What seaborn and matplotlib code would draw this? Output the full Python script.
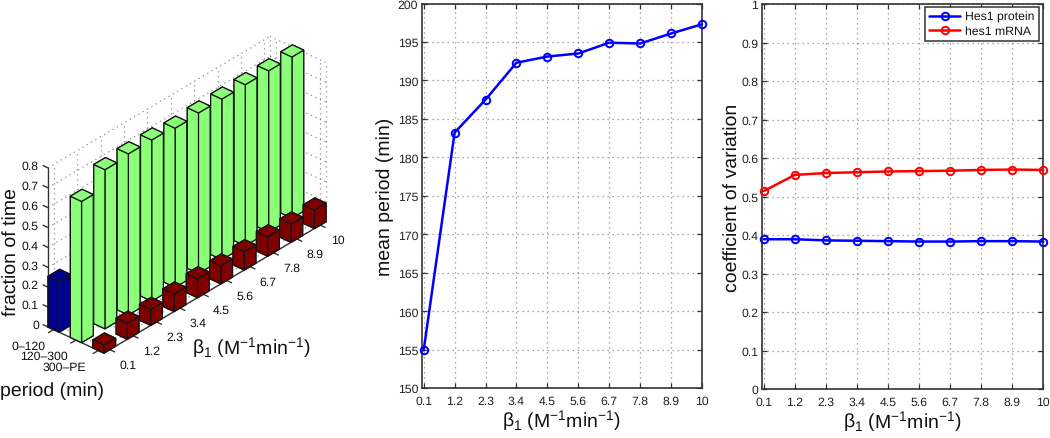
import numpy as np
import pandas as pd
import matplotlib
matplotlib.use("Agg")
import matplotlib.pyplot as plt
import seaborn as sns
from mpl_toolkits.mplot3d import proj3d

# ---- data ----
beta_labels = ["0.1", "1.2", "2.3", "3.4", "4.5", "5.6", "6.7", "7.8", "8.9", "10"]
beta_values = [0.1, 1.2, 2.3, 3.4, 4.5, 5.6, 6.7, 7.8, 8.9, 10.0]
period_labels = ["0–120", "120–300", "300–PE"]
frac_short = [0.255]
frac_mid = [0.71, 0.80, 0.81, 0.81, 0.80, 0.807, 0.807, 0.81, 0.81, 0.81]
frac_long = [0.04, 0.08, 0.08, 0.088, 0.095, 0.09, 0.092, 0.097, 0.092, 0.093]
frac_ticks = [0, 0.1, 0.2, 0.3, 0.4, 0.5, 0.6, 0.7, 0.8]
mean_period = [154.9, 183.2, 187.5, 192.3, 193.1, 193.5, 194.9, 194.8, 196.1, 197.3]
cv_protein = [0.389, 0.389, 0.386, 0.385, 0.384, 0.383, 0.383, 0.384, 0.384, 0.383]
cv_mrna = [0.514, 0.556, 0.561, 0.563, 0.565, 0.566, 0.567, 0.569, 0.570, 0.569]

# ---- style ----
W, H = 1050, 439
sns.set_theme(style="ticks")
FONT = "Liberation Sans"
plt.rcParams.update({
    "font.family": [FONT, "DejaVu Sans"],
    "mathtext.fontset": "custom", "mathtext.rm": FONT, "mathtext.it": FONT,
    "mathtext.bf": FONT, "mathtext.default": "regular",
    "text.color": "#111111", "axes.labelcolor": "#111111",
    "xtick.color": "#222222", "ytick.color": "#222222",
    "text.hinting": "none",
})
TICK = 8.8
LABEL = 14
DARK = "#333333"
GRID = "#8c8c8c"
BETA = "β$_1$ (M$^{-1}$min$^{-1}$)"

fig = plt.figure(figsize=(W / 100, H / 100), dpi=100)
fig.patch.set_facecolor("white")

# ---- 3D panel ----
ax3 = fig.add_axes([0.0, 0.0, 0.6, 0.6 * W / H], projection="3d", proj_type="ortho",
                   computed_zorder=False)
XMIN, XMAX, YMIN, YMAX, ZMAX = 0.75, 3.25, 0.75, 10.25, 0.8
ax3.set_xlim(XMIN, XMAX, view_margin=0)
ax3.set_ylim(YMIN, YMAX, view_margin=0)
ax3.set_zlim(0, ZMAX, view_margin=0)
ax3.view_init(elev=31.7, azim=-48.4)
ax3.set_box_aspect((2.5 * 30.07, 9.5 * 35.4, 0.8 * 235))
ax3.set_axis_off()
ax3.patch.set_alpha(0)


def to_px(x, y, z):
    ax3.apply_aspect()
    px, py, _ = proj3d.proj_transform(x, y, z, ax3.get_proj())
    dx, dy = ax3.transData.transform((px, py))
    return np.array([dx, H - dy])


# fit the box onto the pixel corners of the reference
A_T, B_T = np.array([48.0, 328.0]), np.array([326.5, 64.0])
for _ in range(3):
    A, B = to_px(XMIN, YMIN, 0), to_px(XMAX, YMAX, ZMAX)
    ratio = np.linalg.norm(B_T - A_T) / np.linalg.norm(B - A)
    p = ax3.get_position(original=True)
    ax3.set_position([p.x0, p.y0, p.width * ratio, p.height * ratio])
    A = to_px(XMIN, YMIN, 0)
    shift = A_T - A
    p = ax3.get_position(original=True)
    ax3.set_position([p.x0 + shift[0] / W, p.y0 - shift[1] / H, p.width, p.height])

xt = [1, 2, 3]
yt = list(range(1, 11))
gs = dict(color=GRID, ls=(0, (1, 3)), lw=0.9, zorder=1)
for z in frac_ticks:
    ax3.plot([XMIN, XMIN], [YMIN, YMAX], [z, z], **gs)
    ax3.plot([XMIN, XMAX], [YMAX, YMAX], [z, z], **gs)
for y in yt + [YMAX]:
    ax3.plot([XMIN, XMIN], [y, y], [0, ZMAX], **gs)
    ax3.plot([XMIN, XMAX], [y, y], [0, 0], **gs)
for x in xt + [XMAX]:
    ax3.plot([x, x], [YMAX, YMAX], [0, ZMAX], **gs)
    ax3.plot([x, x], [YMIN, YMAX], [0, 0], **gs)

ls = dict(color=DARK, lw=1.0, zorder=2)
ax3.plot([XMIN, XMIN], [YMIN, YMIN], [0, ZMAX], **ls)
ax3.plot([XMIN, XMAX], [YMIN, YMIN], [0, 0], **ls)
ax3.plot([XMAX, XMAX], [YMIN, YMAX], [0, 0], **ls)
for z in frac_ticks:
    ax3.plot([XMIN - 0.22, XMIN], [YMIN, YMIN], [z, z], **ls)
for x in xt:
    ax3.plot([x, x], [YMIN - 0.22, YMIN], [0, 0], **ls)
for y in yt:
    ax3.plot([XMAX, XMAX + 0.22], [y, y], [0, 0], **ls)

BW = 0.5
bars = [
    (1, frac_short, "#00008f", 3),
    (2, frac_mid, "#8cff78", 4),
    (3, frac_long, "#800000", 5),
]
for xc, vals, col, zo in bars:
    n = len(vals)
    ys = np.arange(1, n + 1) - BW / 2
    ax3.bar3d(np.full(n, xc - BW / 2), ys, np.zeros(n), BW, BW, np.array(vals),
              color=col, shade=False, edgecolor="#141414", linewidth=0.9, zorder=zo)


def ftext(px, py, s, **kw):
    fig.text(px / W, 1 - py / H, s, **kw)


for z, lab in zip(frac_ticks, frac_ticks):
    p = to_px(XMIN, YMIN, z)
    ftext(p[0] - 9, p[1] - 2, f"{lab:g}", ha="right", va="center", fontsize=TICK)
for x, lab, off in zip(xt, period_labels, [-8, -8, -12]):
    p = to_px(x, YMIN, 0)
    ftext(p[0] + off, p[1] + 16, lab, ha="right", va="center", fontsize=TICK)
for y, lab in zip(yt, beta_labels):
    p = to_px(XMAX, y, 0)
    ftext(p[0] + 18, p[1] + 15, lab, ha="center", va="center", fontsize=TICK)
ftext(251, 348, BETA, ha="center", va="center", fontsize=LABEL)
ftext(0, 391, "period (min)", ha="left", va="center", fontsize=LABEL)
ftext(11, 252, "fraction of time", ha="center", va="center", rotation=90, fontsize=LABEL)


# ---- 2D panels ----
def make_axes(left, right, top, bottom):
    a = fig.add_axes([left / W, 1 - bottom / H, (right - left) / W, (bottom - top) / H])
    a.set_xlim(0.03, 10)
    a.set_xticks(beta_values)
    a.set_xticklabels(beta_labels, fontsize=TICK)
    a.grid(True, color=GRID, ls=(0, (1, 3)), lw=0.9)
    a.set_axisbelow(True)
    a.tick_params(direction="in", top=True, right=True, length=3.5, width=0.9,
                  labelsize=TICK, color=DARK)
    a.tick_params(axis="x", pad=5.5)
    a.tick_params(axis="y", pad=2.5)
    for s in a.spines.values():
        s.set_color(DARK)
        s.set_linewidth(1.2)
        s.set_visible(True)
    return a


line_kw = dict(marker="o", markersize=5.4, markerfacecolor="none", markeredgewidth=1.4,
               linewidth=1.8, clip_on=False, errorbar=None, zorder=5)

ax_m = make_axes(421.7, 702, 4.5, 389)
sns.lineplot(data=pd.DataFrame({"beta": beta_values, "mean": mean_period}), x="beta", y="mean",
             color="#0000ff", markeredgecolor="#0000ff", ax=ax_m, **line_kw)
ax_m.set_ylim(150, 200)
ax_m.set_yticks(np.arange(150, 201, 5))
ax_m.set_xlabel(BETA, fontsize=LABEL, labelpad=1)
ax_m.set_ylabel("mean period (min)", fontsize=LABEL, labelpad=3)

ax_c = make_axes(761.7, 1043.3, 5, 390)
cv_df = pd.DataFrame({"beta": beta_values, "protein": cv_protein, "mrna": cv_mrna})
sns.lineplot(data=cv_df, x="beta", y="protein", color="#0000ff", markeredgecolor="#0000ff",
             label="Hes1 protein", ax=ax_c, **line_kw)
sns.lineplot(data=cv_df, x="beta", y="mrna", color="#ff0000", markeredgecolor="#ff0000",
             label="hes1 mRNA", ax=ax_c, **line_kw)
ax_c.set_ylim(0, 1)
ax_c.set_yticks(np.arange(0, 1.01, 0.1))
ax_c.set_yticklabels([f"{v:g}" for v in np.round(np.arange(0, 1.01, 0.1), 1)])
ax_c.set_xlabel(BETA, fontsize=LABEL, labelpad=1)
ax_c.set_ylabel("coefficient of variation", fontsize=LABEL, labelpad=0)
leg = ax_c.legend(loc="upper right", bbox_to_anchor=(1038.5 / W, 1 - 8 / H),
                  bbox_transform=fig.transFigure, fontsize=8.8, frameon=True, fancybox=False,
                  framealpha=1, edgecolor=DARK, borderaxespad=0, borderpad=0.35,
                  labelspacing=0.25, handlelength=2.5, handletextpad=0.4)
leg.get_frame().set_linewidth(1.1)

fig.savefig("out.png", dpi=100, facecolor="white")
